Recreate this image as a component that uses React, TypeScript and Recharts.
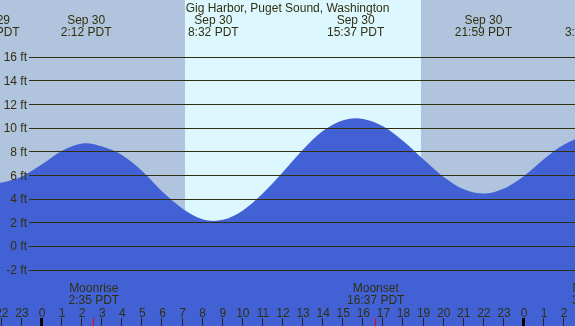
import { Area, ComposedChart, ReferenceArea, ReferenceLine, Scatter, XAxis, YAxis } from 'recharts';

// hours from midnight Sep 30 (PDT), negative = Sep 29, >24 = Oct 1
const tideHours = [-3, -2.54, -2, -1, 0, 1, 2, 2.2, 3, 4, 5, 6, 7, 8, 8.53, 9, 10, 11, 12, 13, 14, 15, 15.62, 16, 17, 18, 19, 20, 21, 22, 23, 24, 25, 26, 27, 27.3];
const tideFeet = [5.36, 5.3, 5.42, 5.92, 6.95, 8.1, 8.72, 8.74, 8.45, 7.72, 6.36, 4.62, 3.2, 2.3, 2.16, 2.25, 3.05, 4.5, 6.3, 8.2, 9.78, 10.68, 10.85, 10.79, 10.14, 8.89, 7.35, 5.88, 4.84, 4.47, 4.9, 5.95, 7.4, 8.62, 9.27, 9.3];

const extremeHours = [-2.54, 2.2, 8.53, 15.62, 21.98, 27.3];
const extremeFeet = [5.3, 8.74, 2.16, 10.85, 4.47, 9.3];
const extremeDates = ['Sep 29', 'Sep 30', 'Sep 30', 'Sep 30', 'Sep 30', 'Oct 1'];
const extremeTimes = ['21:28 PDT', '2:12 PDT', '8:32 PDT', '15:37 PDT', '21:59 PDT', '3:18 PDT'];

const moonHours = [2.58, 16.62, 27.65];
const moonNames = ['Moonrise', 'Moonset', 'Moonrise'];
const moonTimes = ['2:35 PDT', '16:37 PDT', '3:39 PDT'];

const sunrise = 7.12;
const sunset = 18.87;

const hourTicks = [-2, -1, 0, 1, 2, 3, 4, 5, 6, 7, 8, 9, 10, 11, 12, 13, 14, 15, 16, 17, 18, 19, 20, 21, 22, 23, 24, 25, 26];
const feetTicks = [-2, 0, 2, 4, 6, 8, 10, 12, 14, 16];

const X_MIN = -2.091;
const X_MAX = 26.54;
const Y_MIN = -6.73;
const Y_MAX = 20.85;
const GRID_START = -0.65;

const INK = '#303010';
const NIGHT = '#b0c4de';
const DAY = '#ddf7ff';
const WATER = '#4161d5';

const tide = tideHours.map((h, i) => ({ h, ft: tideFeet[i] }));
const extremes = extremeHours.map((h, i) => ({ h, ft: extremeFeet[i], date: extremeDates[i], time: extremeTimes[i] }));
const moon = moonHours.map((h, i) => ({ h, ft: 0, name: moonNames[i], time: moonTimes[i] }));
const hours = hourTicks.map((h) => ({ h, ft: 0 }));
const feet = feetTicks.map((ft) => ({ h: X_MIN, ft }));

const HourTick = (props: any) => {
  const { cx, payload } = props;
  const h = payload.h;
  const midnight = h % 24 === 0;
  const x = Math.round(cx);
  return (
    <g>
      <text x={cx} y={316.5} textAnchor="middle" fill={INK} fontSize={12}>
        {((h % 24) + 24) % 24}
      </text>
      <rect x={midnight ? x - 2 : x - 1} y={318} width={midnight ? 3 : 1} height={8} fill={midnight ? '#000' : '#222'} shapeRendering="crispEdges" />
    </g>
  );
};

const FeetTick = (props: any) => {
  const { cy, payload } = props;
  return (
    <text x={27} y={cy + 4} textAnchor="end" fill={INK} fontSize={12}>
      {payload.ft} ft
    </text>
  );
};

const ExtremeLabel = (props: any) => {
  const { cx, payload } = props;
  return (
    <g>
      <text x={cx} y={24} textAnchor="middle" fill={INK} fontSize={12}>{payload.date}</text>
      <text x={cx} y={36} textAnchor="middle" fill={INK} fontSize={12}>{payload.time}</text>
    </g>
  );
};

const MoonLabel = (props: any) => {
  const { cx, payload } = props;
  return (
    <g>
      <text x={cx} y={292} textAnchor="middle" fill={INK} fontSize={12}>{payload.name}</text>
      <text x={cx} y={304} textAnchor="middle" fill={INK} fontSize={12}>{payload.time}</text>
      <rect x={Math.round(cx) - 1} y={318} width={1} height={8} fill="#ff0000" shapeRendering="crispEdges" />
    </g>
  );
};

export default function App() {
  return (
    <div style={{ position: 'fixed', left: 0, top: 0, width: 575, height: 326, fontFamily: '"Liberation Sans", Arial, sans-serif' }}>
      <ComposedChart width={575} height={326} data={tide} margin={{ top: 0, right: 0, bottom: 0, left: 0 }}>
        <XAxis type="number" dataKey="h" domain={[X_MIN, X_MAX]} allowDataOverflow hide />
        <YAxis type="number" domain={[Y_MIN, Y_MAX]} allowDataOverflow hide />
        <ReferenceArea x1={X_MIN} x2={sunrise} y1={Y_MIN} y2={Y_MAX} fill={NIGHT} fillOpacity={1} stroke="none" />
        <ReferenceArea x1={sunrise} x2={sunset} y1={Y_MIN} y2={Y_MAX} fill={DAY} fillOpacity={1} stroke="none" />
        <ReferenceArea x1={sunset} x2={X_MAX} y1={Y_MIN} y2={Y_MAX} fill={NIGHT} fillOpacity={1} stroke="none" />
        <Area
          type="monotone"
          dataKey="ft"
          baseValue="dataMin"
          stroke="none"
          fill={WATER}
          fillOpacity={1}
          dot={false}
          activeDot={false}
          isAnimationActive={false}
        />
        {feetTicks.map((v) => (
          <ReferenceLine
            key={v}
            segment={[{ x: GRID_START, y: v }, { x: X_MAX, y: v }]}
            stroke={INK}
            strokeWidth={1}
            shapeRendering="crispEdges"
            ifOverflow="visible"
          />
        ))}
        <Scatter data={feet} dataKey="ft" shape={(p: any) => <FeetTick {...p} />} isAnimationActive={false} />
        <Scatter data={hours} dataKey="ft" shape={(p: any) => <HourTick {...p} />} isAnimationActive={false} />
        <Scatter data={extremes} dataKey="ft" shape={(p: any) => <ExtremeLabel {...p} />} isAnimationActive={false} />
        <Scatter data={moon} dataKey="ft" shape={(p: any) => <MoonLabel {...p} />} isAnimationActive={false} />
      </ComposedChart>
      <div style={{ position: 'absolute', left: 0, top: 1, width: 575, textAlign: 'center', fontSize: 12, lineHeight: '14px', color: INK }}>
        Gig Harbor, Puget Sound, Washington
      </div>
    </div>
  );
}
